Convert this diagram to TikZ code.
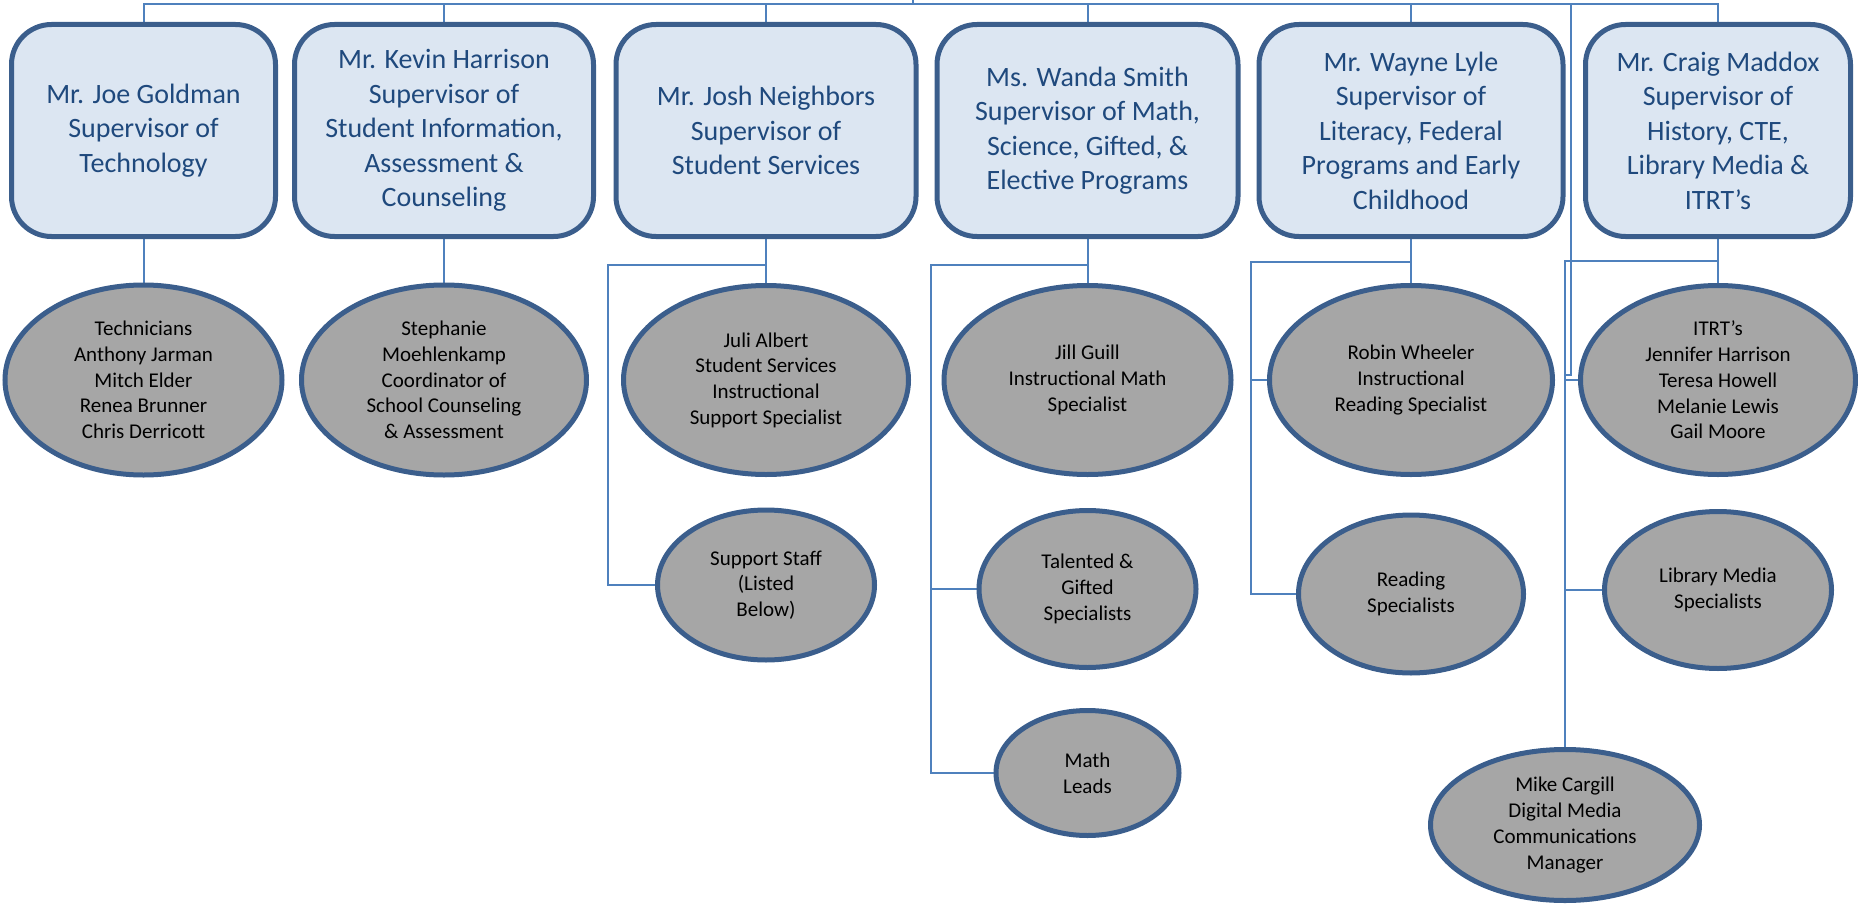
\documentclass[tikz,border=0pt]{standalone}
\usepackage{fontspec}
\setmainfont{Carlito}
\usetikzlibrary{shapes.geometric,backgrounds}
\definecolor{boxfill}{HTML}{DCE6F2}
\definecolor{bordercol}{HTML}{3B5E8C}
\definecolor{conn}{HTML}{4F81BD}
\definecolor{ellfill}{HTML}{A6A6A6}
\definecolor{boxtext}{HTML}{1F497D}
\begin{document}
\begin{tikzpicture}[x=1pt,y=-1pt,
  supbox/.style={draw=bordercol, line width=5pt, fill=boxfill, rounded corners=40pt,
    align=center, text=boxtext, font=\fontsize{28}{34.5}\selectfont,
    minimum height=212pt, inner sep=0pt},
  staff/.style={ellipse, draw=bordercol, line width=5pt, fill=ellfill, align=center,
    font=\fontsize{21}{25.7}\selectfont, inner sep=0pt},
  link/.style={draw=conn, line width=2pt}]
\useasboundingbox (0,0) rectangle (1858,907);

% supervisor boxes
\node[supbox, minimum width=264pt] (box1) at (143.5,130.5) {Mr. Joe Goldman\\Supervisor of\\Technology};
\node[supbox, minimum width=299pt] (box2) at (444,130.5) {Mr. Kevin Harrison\\Supervisor of\\Student Information,\\Assessment \&\\Counseling};
\node[supbox, minimum width=300pt] (box3) at (766,130.5) {Mr. Josh Neighbors\\Supervisor of\\Student Services};
\node[supbox, minimum width=301pt] (box4) at (1087.5,130.5) {Ms. Wanda Smith\\Supervisor of Math,\\Science, Gifted, \&\\Elective Programs};
\node[supbox, minimum width=304pt] (box5) at (1411,130.5) {Mr. Wayne Lyle\\Supervisor of\\Literacy, Federal\\Programs and Early\\Childhood};
\node[supbox, minimum width=265pt] (box6) at (1718,130.5) {Mr. Craig Maddox\\Supervisor of\\History, CTE,\\Library Media \&\\ITRT’s};

% staff ellipses
\node[staff, minimum width=277pt, minimum height=190pt] (tech) at (143.5,380) {Technicians\\Anthony Jarman\\Mitch Elder\\Renea Brunner\\Chris Derricott};
\node[staff, minimum width=285pt, minimum height=190pt] (steph) at (444,380) {Stephanie\\Moehlenkamp\\Coordinator of\\School Counseling\\\& Assessment};
\node[staff, minimum width=285pt, minimum height=189pt] (juli) at (766,380) {Juli Albert\\Student Services\\Instructional\\Support Specialist};
\node[staff, minimum width=217pt, minimum height=150pt] (support) at (766,585) {Support Staff\\(Listed\\Below)};
\node[staff, minimum width=287pt, minimum height=189pt] (jill) at (1087.5,380) {Jill Guill\\Instructional Math\\Specialist};
\node[staff, minimum width=217pt, minimum height=157pt] (gifted) at (1087.5,589) {Talented \&\\Gifted\\Specialists};
\node[staff, minimum width=183pt, minimum height=125pt] (math) at (1087.5,773) {Math\\Leads};
\node[staff, minimum width=283pt, minimum height=189pt] (robin) at (1411,380) {Robin Wheeler\\Instructional\\Reading Specialist};
\node[staff, minimum width=225pt, minimum height=158pt] (reading) at (1411,594) {Reading\\Specialists};
\node[staff, minimum width=275pt, minimum height=189pt] (itrt) at (1718,380) {ITRT’s\\Jennifer Harrison\\Teresa Howell\\Melanie Lewis\\Gail Moore};
\node[staff, minimum width=227pt, minimum height=157pt] (library) at (1718,590) {Library Media\\Specialists};
\node[staff, minimum width=269pt, minimum height=151pt] (mike) at (1565,825) {Mike Cargill\\Digital Media\\Communications\\Manager};

\begin{scope}[on background layer]
\coordinate (rail) at (0,4);
\coordinate (root) at (913,0);
\coordinate (mj) at (1571,375);
\coordinate (b3) at (608,265);
\coordinate (b4) at (931,265);
\coordinate (b5) at (1251,262);
\coordinate (b6) at (1565,261);

\draw[link] (box1.north) -- (box1.north |- rail) -- (box6.north |- rail) -- (box6.north);
\foreach \b in {box2,box3,box4,box5}
  \draw[link] (\b.north) -- (\b.north |- rail);
\draw[link] (root) -- (root |- rail);
\draw[link] (mj |- rail) -- (mj) -| (mike.north);

\draw[link] (box1.south) -- (tech.north);
\draw[link] (box2.south) -- (steph.north);

\draw[link] (box3.south) -- (juli.north);
\draw[link] (box3.south |- b3) -- (b3) |- (support.west);

\draw[link] (box4.south) -- (jill.north);
\draw[link] (box4.south |- b4) -- (b4) |- (math.west);
\draw[link] (b4) |- (gifted.west);

\draw[link] (box5.south) -- (robin.north);
\draw[link] (box5.south |- b5) -- (b5) |- (reading.west);
\draw[link] (b5) |- (robin.west);

\draw[link] (box6.south) -- (itrt.north);
\draw[link] (box6.south |- b6) -- (b6) -- (mike.north);
\draw[link] (b6) |- (itrt.west);
\draw[link] (b6) |- (library.west);
\end{scope}
\end{tikzpicture}
\end{document}
